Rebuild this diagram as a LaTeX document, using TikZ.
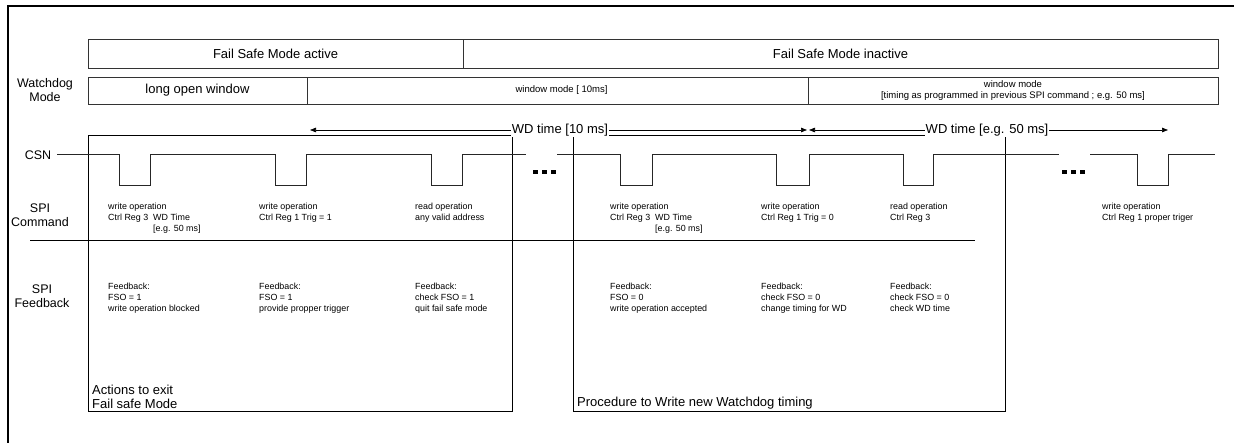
\documentclass[tikz,border=0pt]{standalone}
\usepackage{fontspec}
\setmainfont{Liberation Sans}
\usetikzlibrary{arrows.meta}
\tikzset{
  cell/.style={draw=black!80, line width=0.8pt, inner sep=0pt},
  big/.style={font=\fontsize{13}{14.5}\selectfont},
  mid/.style={font=\fontsize{9.5}{11.5}\selectfont, align=center},
  small/.style={font=\fontsize{8.9}{10.8}\selectfont, align=left, anchor=north west, inner sep=0pt},
  side/.style={font=\fontsize{12.5}{14}\selectfont, align=center, inner sep=0pt},
  wave/.style={line width=0.8pt, black!85},
  thin/.style={line width=0.7pt, black},
  wdlabel/.style={font=\fontsize{13}{14}\selectfont, fill=white, inner sep=1pt},
  wdarrow/.style={line width=0.7pt, -{Triangle[length=6pt,width=4.5pt]}},
  frame/.style={draw=black, line width=0.7pt}
}
\begin{document}
\begin{tikzpicture}[x=1pt,y=-1pt]
\useasboundingbox (0,0) rectangle (1234,443);
% outer frame
\draw[line width=2.6pt] (8,443) -- (8,6) -- (1234,6);

% row 1
\node[cell, big, minimum width=375pt, minimum height=29pt] (fsa) at (275.5,53.5) {Fail Safe Mode active};
\node[cell, big, minimum width=755pt, minimum height=29pt] (fsi) at (840.5,53.5) {Fail Safe Mode inactive};
% row 2
\node[side] (wdm) at (45,90.5) {Watchdog\\Mode};
\node[cell, big, minimum width=219pt, minimum height=27pt] (low) at (197.5,90.5) {long open window};
\node[cell, mid, minimum width=501pt, minimum height=27pt] (wm10) at (557.5,90.5) {\hspace{8pt}window mode [ 10ms]};
\node[cell, mid, minimum width=410pt, minimum height=27pt] (wm50) at (1013,90.5) {window mode\\{}[timing as programmed in previous SPI command ; e.g. 50 ms]};

% procedure boxes
\node[frame, minimum width=424pt, minimum height=276pt, inner sep=0pt] (box1) at (300,273) {};
\node[frame, minimum width=432pt, minimum height=276pt, inner sep=0pt] (box2) at (789,273) {};
\node[big, align=left, anchor=south west, inner sep=0pt] (b1t) at (92,409) {Actions to exit\\Fail safe Mode};
\node[big, align=left, anchor=south west, inner sep=0pt] (b2t) at (577,409) {Procedure to Write new Watchdog timing};

% WD time arrows
\node[wdlabel] (wd1) at (560,130) {WD time [10 ms]};
\node[wdlabel] (wd2) at (987,130) {WD time [e.g. 50 ms]};
\coordinate (wd1l) at (310,130);
\coordinate (wd1r) at (807,130);
\coordinate (wd2l) at (809,130);
\coordinate (wd2r) at (1168,130);
\draw[wdarrow] (wd1.west) -- (wd1l);
\draw[wdarrow] (wd1.east) -- (wd1r);
\draw[wdarrow] (wd2.west) -- (wd2l);
\draw[wdarrow] (wd2.east) -- (wd2r);

% side labels
\node[side] (csn) at (38,155) {CSN};
\node[side] (spic) at (40,215) {SPI\\Command};
\node[side] (spif) at (42,296) {SPI\\Feedback};

% SPI command separator
\coordinate (sepl) at (30,240);
\coordinate (sepr) at (975,240);
\draw[thin] (sepl) -- (sepr);

% CSN waveform
\draw[wave] (57,154) -- (119,154) -- (119,185) -- (150,185) -- (150,154)
  -- (275,154) -- (275,185) -- (306,185) -- (306,154)
  -- (431,154) -- (431,185) -- (462,185) -- (462,154) -- (526,154);
\draw[wave] (557,154) -- (620,154) -- (620,185) -- (652,185) -- (652,154)
  -- (776,154) -- (776,185) -- (809,185) -- (809,154)
  -- (903,154) -- (903,185) -- (933,185) -- (933,154) -- (1059,154);
\draw[wave] (1090,154) -- (1137,154) -- (1137,185) -- (1168,185) -- (1168,154) -- (1215,154);
% ellipsis dots
\foreach \x in {533,542,551} { \fill (\x,170) rectangle ++(4.5,4.5); }
\foreach \x in {1062,1071,1080} { \fill (\x,170) rectangle ++(4.5,4.5); }

% SPI commands
\node[small] (c1) at (108,203) {write operation\\Ctrl Reg 3\ \ WD Time\\\hphantom{Ctrl Reg 3\ \ }[e.g. 50 ms]};
\node[small] (c2) at (259,203) {write operation\\Ctrl Reg 1 Trig = 1};
\node[small] (c3) at (415,203) {read operation\\any valid address};
\node[small] (c4) at (610,203) {write operation\\Ctrl Reg 3\ \ WD Time\\\hphantom{Ctrl Reg 3\ \ }[e.g. 50 ms]};
\node[small] (c5) at (761,203) {write operation\\Ctrl Reg 1 Trig = 0};
\node[small] (c6) at (890,203) {read operation\\Ctrl Reg 3};
\node[small] (c7) at (1102,203) {write operation\\Ctrl Reg 1 proper triger};

% SPI feedback
\node[small] (f1) at (108,283) {Feedback:\\FSO = 1\\write operation blocked};
\node[small] (f2) at (259,283) {Feedback:\\FSO = 1\\provide propper trigger};
\node[small] (f3) at (415,283) {Feedback:\\check FSO = 1\\quit fail safe mode};
\node[small] (f4) at (610,283) {Feedback:\\FSO = 0\\write operation accepted};
\node[small] (f5) at (761,283) {Feedback:\\check FSO = 0\\change timing for WD};
\node[small] (f6) at (890,283) {Feedback:\\check FSO = 0\\check WD time};
\end{tikzpicture}
\end{document}
